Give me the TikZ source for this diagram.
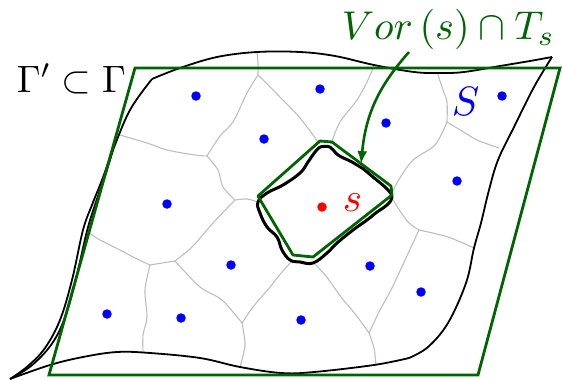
\documentclass[tikz,border=0pt]{standalone}
\usetikzlibrary{arrows.meta}
\definecolor{dgreen}{RGB}{0,100,0}
\definecolor{vgray}{RGB}{190,190,190}
\begin{document}
\begin{tikzpicture}[x=1pt,y=-1pt,
  bdot/.style={circle,fill=blue,inner sep=0pt,minimum size=9.5pt},
  rdot/.style={circle,fill=red,inner sep=0pt,minimum size=9.5pt},
  vedge/.style={draw=vgray,line width=1.1pt},
  outer/.style={draw=black,line width=1.8pt,line join=round},
  quad/.style={draw=dgreen,line width=2.8pt,line join=miter},
  cell/.style={draw=black,line width=3pt,line join=round},
  lbl/.style={inner sep=0pt,scale=4.1}]
\useasboundingbox (0,0) rectangle (562,380);
% Voronoi edges
\draw[vedge] plot[smooth] coordinates {(257,52) (258,64) (258,75)};
\draw[vedge] plot[smooth] coordinates {(258,75) (247,93) (233,122) (220,136) (207,156)};
\draw[vedge] plot[smooth] coordinates {(207,156) (195,155) (167,150) (147,143) (120,135)};
\draw[vedge] plot[smooth] coordinates {(207,156) (218,170) (223,187) (235,200)};
\draw[vedge] plot[smooth] coordinates {(235,200) (247,199) (258,202)};
\draw[vedge] plot[smooth] coordinates {(235,200) (213,223) (192,247) (175,261)};
\draw[vedge] plot[smooth] coordinates {(175,261) (162,263) (150,265)};
\draw[vedge] plot[smooth] coordinates {(150,265) (135,258) (120,250) (100,240) (88,232)};
\draw[vedge] plot[smooth] coordinates {(150,265) (145,290) (147,317) (143,335) (143,353)};
\draw[vedge] plot[smooth] coordinates {(175,261) (200,287) (222,300) (242,323)};
\draw[vedge] plot[smooth] coordinates {(242,323) (245,345) (240,367)};
\draw[vedge] plot[smooth] coordinates {(242,323) (253,307) (270,287) (282,272) (292,261)};
\draw[vedge] plot[smooth] coordinates {(313,262) (326,276) (341,297) (356,315) (369,333)};
\draw[vedge] plot[smooth] coordinates {(369,333) (374,348) (376,365)};
\draw[vedge] plot[smooth] coordinates {(369,333) (380,310) (391,290) (405,260) (419,230)};
\draw[vedge] plot[smooth] coordinates {(419,230) (409,223) (400,211) (392,198)};
\draw[vedge] plot[smooth] coordinates {(419,230) (448,237) (474,248)};
\draw[vedge] plot[smooth] coordinates {(392,193) (398,181) (413,160) (435,145) (447,122)};
\draw[vedge] plot[smooth] coordinates {(447,122) (462,131) (477,140) (499,148)};
\draw[vedge] plot[smooth] coordinates {(447,122) (447,102) (443,90) (437,72)};
\draw[vedge] plot[smooth] coordinates {(331,144) (340,122) (357,100) (367,82) (374,66)};
\draw[vedge] plot[smooth] coordinates {(258,75) (278,95) (300,118) (318,142)};
% outer surface Gamma
\draw[outer] plot[smooth,tension=0.6] coordinates {(152,79) (180,68) (217,57) (257,52) (300,52) (335,56) (374,65) (414,72) (440,73) (464,72) (500,66) (530,61) (552,57)};
\draw[outer] plot[smooth,tension=0.6] coordinates {(552,57) (534,87) (514,127) (498,160) (489,190) (481,223) (474,248) (466,283) (448,323) (428,347) (409,358)};
\draw[outer] plot[smooth,tension=0.6] coordinates {(409,358) (374,365) (314,372) (281,373) (240,367) (200,358) (150,353) (117,352) (83,357) (50,365) (10,379)};
\draw[outer] plot[smooth,tension=0.6] coordinates {(152,79) (130,110) (113,150) (102,180) (92,205) (83,230) (72,280) (60,320) (45,348) (28,366) (10,379)};
\draw[outer] plot[smooth,tension=0.6] coordinates {(113,150) (105,176) (96,202) (87,231) (75,283) (64,320) (51,345) (31,366) (10,379)};
% green quadrilateral
\draw[quad] (135,68) -- (560,68) -- (478,375) -- (49,375) -- cycle;
% central cell
\draw[cell] plot[smooth,tension=0.7] coordinates {(320,147) (330,147) (338,155) (352,162) (362,168) (373,177) (387,189) (392,197) (387,205) (377,212) (367,220) (353,230) (337,243) (327,253) (313,263) (300,262) (290,260) (282,250) (277,237) (267,227) (260,213) (258,202) (267,193) (283,185) (300,173) (308,162) (315,152) (320,147)};
\draw[quad,line join=round] (258,196) -- (320,141) -- (332,142) -- (391,186) -- (392,195) -- (313,257) -- (293,255) -- (262,203) -- cycle;
% sites
\node[bdot] (s1) at (196,96) {};
\node[bdot] (s2) at (320,89) {};
\node[bdot] (s3) at (264,139) {};
\node[bdot] (s4) at (386,123) {};
\node[bdot] (s5) at (502,96) {};
\node[bdot] (s6) at (457,181) {};
\node[bdot] (s7) at (167,204) {};
\node[bdot] (s8) at (231,265) {};
\node[bdot] (s9) at (370,266) {};
\node[bdot] (s10) at (421,292) {};
\node[bdot] (s11) at (107,314) {};
\node[bdot] (s12) at (181,318) {};
\node[bdot] (s13) at (301,320) {};
\node[rdot] (s) at (322,207) {};
% labels
\node[lbl,scale=0.93,anchor=base west] (gam) at (16,92) {$\Gamma'\subset\Gamma$};
\node[lbl,anchor=base west,text=blue] (S) at (451,115) {$S$};
\node[lbl,anchor=base west,text=red] (sl) at (342,211) {$s$};
\node[lbl,scale=0.98,anchor=base west,text=dgreen] (vor) at (341,39) {$Vor\,(s)\cap T_s$};
\coordinate (arrS) at (409,52);
\coordinate (arrT) at (361,164);
\draw[dgreen,line width=2.6pt,-{Latex[length=13pt,width=10pt]}] (arrS) .. controls (380,85) and (366,112) .. (arrT);
\end{tikzpicture}
\end{document}
